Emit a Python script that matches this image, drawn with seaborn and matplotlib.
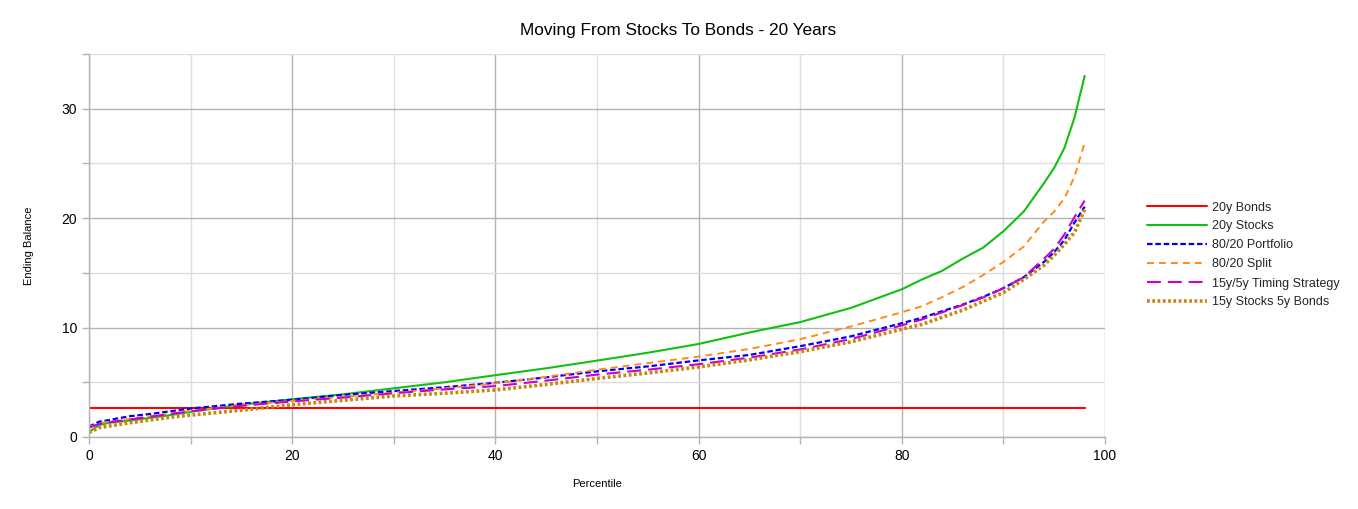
import matplotlib
matplotlib.use("Agg")
import matplotlib.pyplot as plt
import seaborn as sns
import pandas as pd
from matplotlib.ticker import MultipleLocator

percentiles = [0, 1, 2, 4, 6, 8, 10, 15, 20, 25, 30, 35, 40, 45, 50, 55, 60, 65, 70,
               75, 80, 82, 84, 86, 88, 90, 92, 94, 95, 96, 97, 98]

bonds_20y = [2.65] * len(percentiles)
stocks_20y = [0.45, 1.1, 1.3, 1.5, 1.75, 2.0, 2.3, 2.95, 3.45, 3.9, 4.45, 5.0, 5.65, 6.28,
              6.98, 7.7, 8.5, 9.55, 10.5, 11.8, 13.5, 14.4, 15.2, 16.3, 17.3, 18.8, 20.6,
              23.2, 24.6, 26.4, 29.2, 33.0]
portfolio_80_20 = [0.95, 1.4, 1.55, 1.9, 2.1, 2.35, 2.6, 3.05, 3.4, 3.85, 4.2, 4.55, 4.95,
                   5.45, 6.0, 6.45, 7.0, 7.5, 8.3, 9.2, 10.4, 10.9, 11.5, 12.1, 12.8, 13.6,
                   14.6, 16.0, 16.9, 18.0, 19.6, 21.05]
split_80_20 = [0.9, 1.25, 1.4, 1.65, 1.9, 2.15, 2.4, 2.9, 3.3, 3.67, 4.05, 4.45, 4.9, 5.5,
               6.15, 6.75, 7.35, 8.05, 8.94, 10.1, 11.4, 11.95, 12.8, 13.7, 14.8, 16.0,
               17.4, 19.7, 20.6, 21.8, 23.8, 26.9]
timing_15_5 = [0.85, 1.2, 1.35, 1.6, 1.85, 2.1, 2.35, 2.85, 3.25, 3.6, 4.0, 4.35, 4.65,
               5.15, 5.7, 6.15, 6.65, 7.25, 8.0, 8.95, 10.2, 10.75, 11.4, 12.05, 12.75,
               13.6, 14.6, 16.3, 17.2, 18.5, 20.1, 21.6]
stocks15_bonds5 = [0.4, 0.85, 1.0, 1.3, 1.55, 1.8, 2.0, 2.45, 2.95, 3.35, 3.75, 4.0, 4.3,
                   4.8, 5.35, 5.85, 6.4, 7.05, 7.8, 8.7, 9.85, 10.3, 10.95, 11.6, 12.4,
                   13.2, 14.4, 15.7, 16.6, 17.6, 18.7, 20.8]

series_names = ["20y Bonds", "20y Stocks", "80/20 Portfolio", "80/20 Split",
                "15y/5y Timing Strategy", "15y Stocks 5y Bonds"]
series_values = [bonds_20y, stocks_20y, portfolio_80_20, split_80_20,
                 timing_15_5, stocks15_bonds5]

sns.set_theme(style="white")
plt.rcParams['font.family'] = ['Liberation Sans', 'DejaVu Sans']
plt.rcParams['lines.scale_dashes'] = False

styles = [
    dict(color="#ff0000", lw=1.5, linestyle="-"),
    dict(color="#12bf12", lw=1.5, linestyle="-"),
    dict(color="#0000ff", lw=1.6, linestyle=(0, (4.0, 2.0))),
    dict(color="#ff8a1c", lw=1.4, linestyle=(0, (5.0, 3.6))),
    dict(color="#cc00cc", lw=1.5, linestyle=(0, (10.0, 5.0))),
    dict(color="#c8860a", lw=2.6, linestyle=(0, (2.0, 1.8))),
]

fig = plt.figure(figsize=(13.58, 5.09), dpi=100)
ax = fig.add_axes([89 / 1358, 1 - 437 / 509, (1105 - 89) / 1358, (437 - 54) / 509])

for name, vals, st in zip(series_names, series_values, styles):
    df = pd.DataFrame({"Percentile": percentiles, "Ending Balance": vals})
    sns.lineplot(data=df, x="Percentile", y="Ending Balance", ax=ax, label=name,
                 color=st["color"], linewidth=st["lw"], linestyle=st["linestyle"])

ax.set_xlim(0, 100)
ax.set_ylim(0, 35)
ax.xaxis.set_major_locator(MultipleLocator(20))
ax.xaxis.set_minor_locator(MultipleLocator(10))
ax.yaxis.set_major_locator(MultipleLocator(10))
ax.yaxis.set_minor_locator(MultipleLocator(5))

ax.grid(which="major", color="#b3b3b3", linewidth=1.0)
ax.grid(which="minor", color="#dddddd", linewidth=1.0)
ax.set_axisbelow(True)
for s in ["top", "right"]:
    ax.spines[s].set_visible(False)
for s in ["left", "bottom"]:
    ax.spines[s].set_color("#b3b3b3")
    ax.spines[s].set_linewidth(1.0)

ax.tick_params(which="both", direction="out", length=5, width=1, color="#b3b3b3",
               labelsize=10, labelcolor="#000000", bottom=True, left=True)
ax.tick_params(which="minor", labelleft=False, labelbottom=False)

ax.set_xlabel("Percentile", fontsize=8, color="#000000", labelpad=12)
ax.set_ylabel("Ending Balance", fontsize=8, color="#000000", labelpad=20)

fig.text(678 / 1358, 1 - 30 / 509, "Moving From Stocks To Bonds - 20 Years",
         ha="center", va="center", fontsize=12.4, color="#000000")

ax.legend(loc="center left", bbox_to_anchor=(1136 / 1358, 1 - 255 / 509),
          bbox_transform=fig.transFigure, frameon=False, fontsize=9,
          handlelength=4.8, handletextpad=0.4, labelspacing=0.56)

fig.savefig("out.png", dpi=100)
